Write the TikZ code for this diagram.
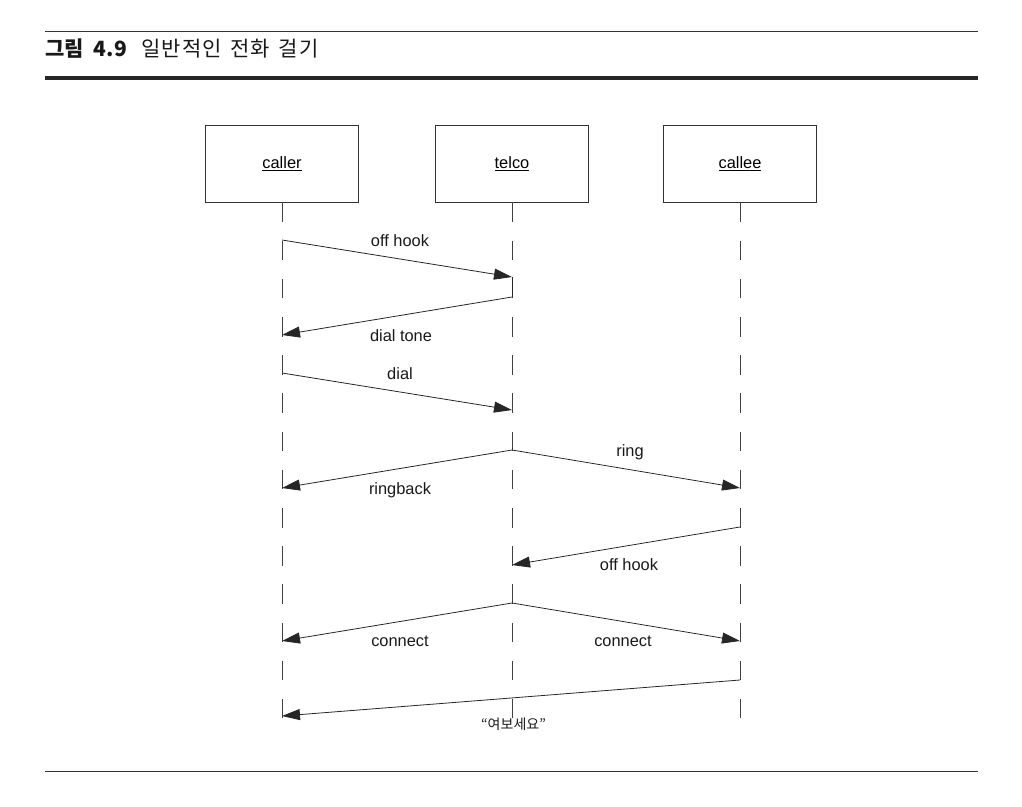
\documentclass[tikz,border=0pt]{standalone}
\usepackage{fontspec}
\setmainfont{Liberation Sans}
\newfontfamily\krfont{Noto Sans CJK KR}
\usetikzlibrary{arrows.meta,calc}

\begin{document}
\begin{tikzpicture}[x=1pt,y=-1pt,
    obj/.style={draw=black!80,line width=0.8pt,minimum width=153pt,minimum height=77pt,inner sep=0pt,font=\fontsize{16.4}{20}\selectfont},
    life/.style={draw=black!75,line width=0.8pt,dash pattern=on 19.5pt off 18.7pt},
    msg/.style={draw=black!85,line width=0.8pt,-{Triangle[length=18pt,width=11pt]}},
    lbl/.style={anchor=base,inner sep=0pt,text=black!90,font=\fontsize{16.4}{20}\selectfont}]
    \useasboundingbox (0,0) rectangle (1022,806);

    % page rules and caption
    \draw[black!80,line width=1pt] (45,31) -- (978,31);
    \node[anchor=base west,inner sep=0pt,text=black!90] (cap) at (45,56)
      {\krfont\fontsize{21}{24}\selectfont{\bfseries\addfontfeature{LetterSpace=2}그림\hspace{4pt} 4.9}\hspace{14pt}{\addfontfeature{LetterSpace=5}일반적인\hspace{3pt} 전화\hspace{3pt} 걸기}};
    \draw[black!85,line width=3.3pt] (45,78) -- (978,78);
    \draw[black!80,line width=1pt] (45,771) -- (978,771);

    % objects
    \node[obj] (caller) at (282,163.5) {\underline{caller}};
    \node[obj] (telco) at (512,163.5) {\underline{telco}};
    \node[obj] (callee) at (740,163.5) {\underline{callee}};

    \coordinate (callerE) at (282,718);
    \coordinate (telcoE) at (512,718);
    \coordinate (calleeE) at (740,718);
    \draw[life] (caller.south) -- (callerE);
    \draw[life] (telco.south) -- (telcoE);
    \draw[life] (callee.south) -- (calleeE);

    % message points
    \coordinate (A1) at (282,240);
    \coordinate (B1) at (512,277);
    \coordinate (B2) at (512,297);
    \coordinate (A2) at (282,335);
    \coordinate (A3) at (282,373);
    \coordinate (B3) at (512,410);
    \coordinate (B4) at (512,450);
    \coordinate (A4) at (282,488);
    \coordinate (C4) at (740,488);
    \coordinate (C5) at (740,527);
    \coordinate (B5) at (512,565);
    \coordinate (B6) at (512,603);
    \coordinate (A6) at (282,641);
    \coordinate (C6) at (740,641);
    \coordinate (C7) at (740,680);
    \coordinate (A7) at (282,716);

    % messages
    \draw[msg] (A1) -- (B1);
    \draw[black!85,line width=0.8pt] (B1) -- (B2);
    \draw[msg] (B2) -- (A2);
    \draw[msg] (A3) -- (B3);
    \draw[msg] (B4) -- (A4);
    \draw[msg] (B4) -- (C4);
    \draw[msg] (C5) -- (B5);
    \draw[msg] (B6) -- (A6);
    \draw[msg] (B6) -- (C6);
    \draw[msg] (C7) -- (A7);

    % labels
    \node[lbl] (m1) at (400,246) {off hook};
    \node[lbl] (m2) at (401,341.5) {dial tone};
    \node[lbl] (m3) at (400,379) {dial};
    \node[lbl] (m4) at (400,494) {ringback};
    \node[lbl] (m5) at (630,456.5) {ring};
    \node[lbl] (m6) at (629,570.5) {off hook};
    \node[lbl] (m7) at (400,646) {connect};
    \node[lbl] (m8) at (623,646) {connect};
    \node[lbl] (m9) at (513.5,729) {\krfont\fontsize{14}{16}\selectfont “여보세요”};
\end{tikzpicture}
\end{document}
